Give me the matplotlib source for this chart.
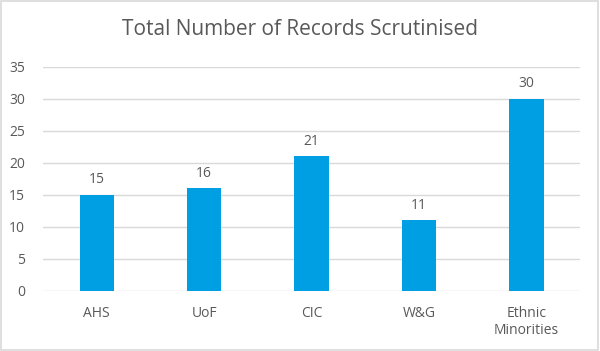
import matplotlib
matplotlib.use("Agg")
import matplotlib.pyplot as plt
from matplotlib.patches import Rectangle

# data
categories = ["AHS", "UoF", "CIC", "W&G", "Ethnic\nMinorities"]
records = [15, 16, 21, 11, 30]
y_ticks = [0, 5, 10, 15, 20, 25, 30, 35]

TEXT = "#595959"
BAR = "#009FE3"
GRID = "#D9D9D9"

plt.rcParams["font.family"] = ["Open Sans", "DejaVu Sans"]

fig = plt.figure(figsize=(6, 3.51), dpi=100)
ax = fig.add_axes([0.0717, 0.1718, 0.895, 0.638])

x = range(len(categories))
bars = ax.bar(x, records, width=0.32, color=BAR, zorder=3)
for bar, v in zip(bars, records):
    ax.text(bar.get_x() + bar.get_width() / 2, v + 1.2, str(v),
            ha="center", va="bottom", fontsize=10, color=TEXT)

ax.set_xlim(-0.5, len(categories) - 0.5)
ax.set_ylim(0, 35)
ax.set_yticks(y_ticks)
ax.set_xticks(list(x))
ax.set_xticklabels(categories, linespacing=1.2)
ax.tick_params(axis="both", length=0, labelsize=10, labelcolor=TEXT)
ax.tick_params(axis="x", pad=11)
ax.tick_params(axis="y", pad=13)
ax.grid(axis="y", color=GRID, linewidth=1, zorder=0)
for s in ax.spines.values():
    s.set_visible(False)

fig.text(0.5, 0.915, "Total Number of Records Scrutinised", ha="center",
         va="center", fontsize=15, color=TEXT)

fig.patches.append(Rectangle((0.002, 0.003), 0.995, 0.993, transform=fig.transFigure,
                             fill=False, edgecolor=GRID, linewidth=1.2))

fig.savefig("out.png", dpi=100)
